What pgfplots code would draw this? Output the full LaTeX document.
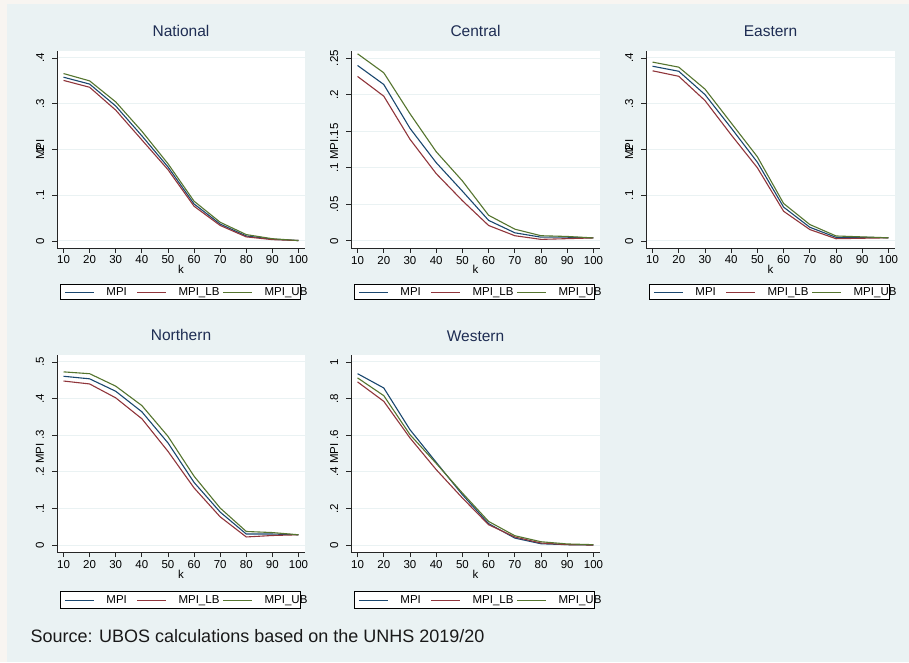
\documentclass[border=0pt]{standalone}
\usepackage{fontspec}
\setmainfont{Liberation Sans}
\usepackage{pgfplots}
\usepackage{pgfplotstable}
\pgfplotsset{compat=1.18}

\definecolor{outerbg}{HTML}{F8F5F1}
\definecolor{regionbg}{HTML}{EAF2F3}
\definecolor{sNavy}{HTML}{1A476F}
\definecolor{sMaroon}{HTML}{90353B}
\definecolor{sGreen}{HTML}{55752F}
\definecolor{titlec}{HTML}{1E2D53}

% MPI by poverty cut-off k, with lower and upper bounds
\pgfplotstableread{
k   MPI   LB    UB
10  0.358 0.351 0.366
20  0.343 0.336 0.350
30  0.295 0.286 0.304
40  0.230 0.221 0.240
50  0.162 0.156 0.169
60  0.081 0.076 0.087
70  0.037 0.034 0.041
80  0.011 0.009 0.014
90  0.004 0.003 0.005
100 0.001 0.001 0.001
}\national

\pgfplotstableread{
k   MPI   LB    UB
10  0.240 0.225 0.256
20  0.214 0.198 0.230
30  0.154 0.139 0.174
40  0.107 0.092 0.122
50  0.068 0.055 0.082
60  0.028 0.021 0.035
70  0.011 0.007 0.016
80  0.005 0.002 0.007
90  0.005 0.003 0.006
100 0.004 0.004 0.004
}\central

\pgfplotstableread{
k   MPI   LB    UB
10  0.382 0.372 0.391
20  0.371 0.360 0.380
30  0.320 0.307 0.332
40  0.247 0.232 0.258
50  0.172 0.160 0.184
60  0.074 0.065 0.082
70  0.030 0.025 0.036
80  0.008 0.005 0.011
90  0.008 0.006 0.009
100 0.007 0.007 0.007
}\eastern

\pgfplotstableread{
k   MPI   LB    UB
10  0.461 0.448 0.473
20  0.454 0.440 0.468
30  0.420 0.402 0.434
40  0.364 0.345 0.381
50  0.279 0.256 0.297
60  0.171 0.156 0.188
70  0.090 0.077 0.101
80  0.030 0.022 0.037
90  0.030 0.026 0.034
100 0.028 0.028 0.028
}\northern

\pgfplotstableread{
k   MPI   LB    UB
10  0.936 0.891 0.913
20  0.858 0.785 0.816
30  0.630 0.585 0.603
40  0.452 0.412 0.446
50  0.275 0.257 0.284
60  0.117 0.111 0.129
70  0.038 0.044 0.051
80  0.007 0.011 0.018
90  0.002 0.002 0.006
100 0.000 0.000 0.002
}\western

\pgfplotsset{
  stata/.style={
    scale only axis,
    width=249pt, height=197pt,
    axis lines*=left,
    axis background/.style={fill=white},
    axis line style={draw=black!85, line width=0.8pt},
    tick style={draw=black!85, line width=0.8pt},
    tick align=outside,
    major tick length=5pt,
    ymajorgrids,
    major grid style={draw=regionbg, line width=1pt},
    xmin=7.5, xmax=102.5,
    xtick={10,20,...,100},
    xticklabels={10,20,30,40,50,60,70,80,90,100},
    ticklabel style={font=\fontsize{11.5}{12}\selectfont, text=black},
    xticklabel style={anchor=base, inner sep=0pt},
    xticklabel shift=11pt,
    yticklabel style={rotate=90, anchor=base, inner sep=0pt},
    yticklabel shift=8pt,
    xlabel={k}, ylabel={MPI},
    every axis x label/.style={at={([yshift=-26pt]axis description cs:0.5,0)}, anchor=base,
      font=\fontsize{11.5}{12}\selectfont},
    every axis y label/.style={at={([xshift=-13pt]axis description cs:0,0.5)}, rotate=90, anchor=base,
      font=\fontsize{11.5}{12}\selectfont},
    title style={font=\fontsize{15.5}{16}\selectfont, text=titlec,
      at={([yshift=8pt]axis description cs:0.5,1)}, anchor=base},
    legend columns=3,
    legend image code/.code={\draw[#1] (0pt,0pt) -- (29pt,0pt);},
    legend style={draw=black, line width=0.7pt, fill=white,
      inner xsep=4pt, inner ysep=2pt,
      font=\fontsize{11.5}{12}\selectfont,
      nodes={inner sep=1pt},
      /tikz/every odd column/.append style={column sep=11pt},
      at={([xshift=3pt,yshift=-36pt]axis description cs:0,0)}, anchor=north west},
    legend entries={\makebox[29pt][l]{MPI},\makebox[43pt][l]{MPI\_LB},\makebox[31pt][l]{MPI\_UB}},
    cycle list={{draw=sNavy, line width=1.1pt, mark=none},
                {draw=sMaroon, line width=1.1pt, mark=none},
                {draw=sGreen, line width=1.1pt, mark=none}},
  },
  yA/.style={ymin=-0.0153, ymax=0.4153, ytick={0,0.1,0.2,0.3,0.4}, yticklabels={0,.1,.2,.3,.4}},
}

\begin{document}
\begin{tikzpicture}
\fill[outerbg] (0pt,0pt) rectangle (909pt,662pt);
\fill[regionbg] (7pt,0pt) rectangle (909pt,658pt);

\begin{axis}[stata, yA, at={(57pt,414pt)}, anchor=south west, width=248pt, title={National}]
\addplot table[x=k,y=MPI]{\national};
\addplot table[x=k,y=LB]{\national};
\addplot table[x=k,y=UB]{\national};
\end{axis}

\begin{axis}[stata, at={(351pt,414pt)}, anchor=south west, title={Central},
  ymin=-0.0098, ymax=0.2598, ytick={0,0.05,0.1,0.15,0.2,0.25}, yticklabels={0,.05,.1,.15,.2,.25}]
\addplot table[x=k,y=MPI]{\central};
\addplot table[x=k,y=LB]{\central};
\addplot table[x=k,y=UB]{\central};
\end{axis}

\begin{axis}[stata, yA, at={(646pt,414pt)}, anchor=south west, title={Eastern}]
\addplot table[x=k,y=MPI]{\eastern};
\addplot table[x=k,y=LB]{\eastern};
\addplot table[x=k,y=UB]{\eastern};
\end{axis}

\begin{axis}[stata, at={(57pt,110pt)}, anchor=south west, width=248pt, title={Northern},
  ymin=-0.0191, ymax=0.5191, ytick={0,0.1,...,0.5}, yticklabels={0,.1,.2,.3,.4,.5},
  legend style={inner ysep=3pt, at={([xshift=3pt,yshift=-39pt]axis description cs:0,0)}}]
\addplot table[x=k,y=MPI]{\northern};
\addplot table[x=k,y=LB]{\northern};
\addplot table[x=k,y=UB]{\northern};
\end{axis}

\begin{axis}[stata, at={(351pt,110pt)}, anchor=south west, title={Western},
  ymin=-0.038, ymax=1.038, ytick={0,0.2,...,1}, yticklabels={0,.2,.4,.6,.8,1},
  legend style={inner ysep=3pt, at={([xshift=3pt,yshift=-39pt]axis description cs:0,0)}}]
\addplot table[x=k,y=MPI]{\western};
\addplot table[x=k,y=LB]{\western};
\addplot table[x=k,y=UB]{\western};
\end{axis}

\node[anchor=base west, font=\fontsize{18}{20}\selectfont, text=black!90] at (27pt,20pt)
  {Source: UBOS calculations based on the UNHS 2019/20};

\pgfresetboundingbox
\useasboundingbox (0pt,0pt) rectangle (909pt,662pt);
\end{tikzpicture}
\end{document}
